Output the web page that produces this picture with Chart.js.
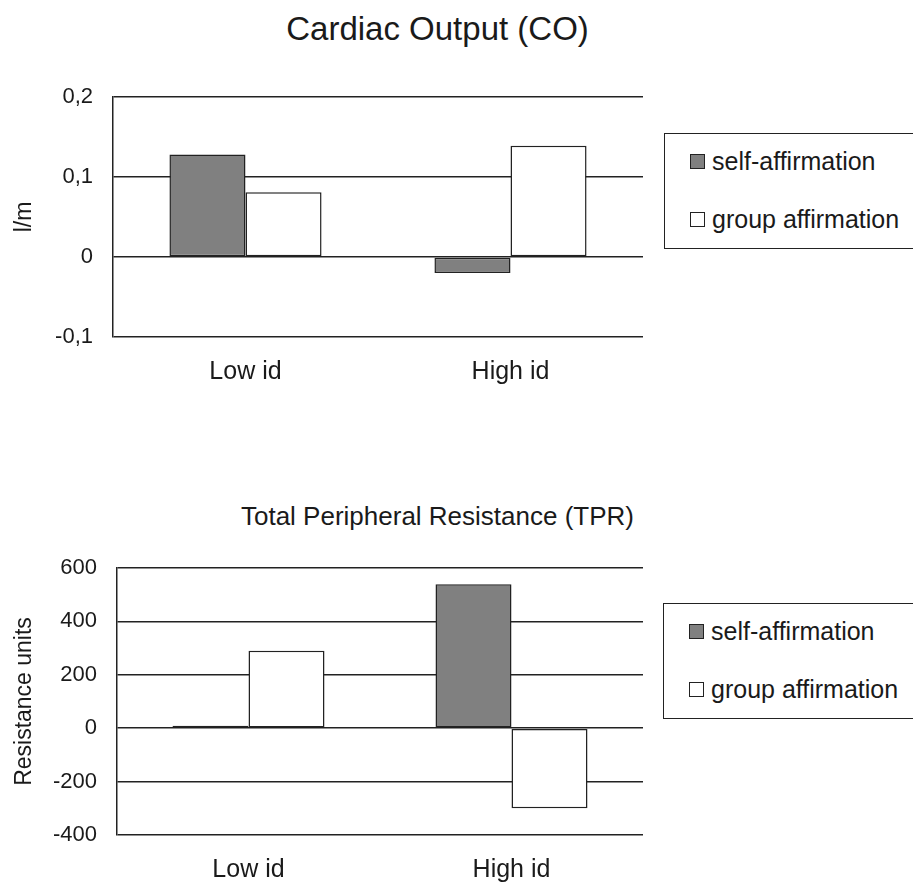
<!DOCTYPE html>
<html>
<head>
<meta charset="utf-8">
<script src="https://cdn.jsdelivr.net/npm/chart.js@4.4.1/dist/chart.umd.min.js"></script>
<style>
  body { margin: 0; background: #fff; }
  #page { position: relative; width: 913px; height: 883px; overflow: hidden; font-family: "Liberation Sans", Arial, sans-serif; color: #1a1a1a; }
  canvas { position: absolute; left: 0; }
  .title { position: absolute; left: 0; width: 875px; text-align: center; line-height: 1; }
  .legend { position: absolute; width: 270px; height: 116px; border: 1.5px solid #222; box-sizing: border-box; background: #fff; padding: 15px 0 0 25px; }
  .legend-row { display: flex; align-items: center; height: 24px; margin-bottom: 34px; font-size: 25px; }
  .legend-box { width: 15px; height: 15px; box-sizing: border-box; border: 1.5px solid #222; margin-right: 7px; }
</style>
</head>
<body>
<div id="page">
  <div class="title" style="top: 12px; font-size: 33px;">Cardiac Output (CO)</div>
  <canvas id="coChart" width="913" height="440" style="top: 0;"></canvas>
  <div class="legend" id="coLegend" style="left: 664px; top: 133px;"></div>

  <div class="title" style="top: 503px; font-size: 26px;">Total Peripheral Resistance (TPR)</div>
  <canvas id="tprChart" width="913" height="443" style="top: 440px;"></canvas>
  <div class="legend" id="tprLegend" style="left: 663px; top: 603px;"></div>
</div>

<script>
const groups = ['Low id', 'High id'];
const seriesNames = ['self-affirmation', 'group affirmation'];
const seriesColors = ['#808080', '#ffffff'];

// Cardiac Output (l/m)
const coSelf = [0.128, -0.02];
const coGroup = [0.081, 0.139];
const coTicks = [-0.1, 0, 0.1, 0.2];
const coTickLabels = ['-0,1', '0', '0,1', '0,2'];

// Total Peripheral Resistance
const tprSelf = [9, 539];
const tprGroup = [290, -300];
const tprTicks = [-400, -200, 0, 200, 400, 600];
const tprTickLabels = ['-400', '-200', '0', '200', '400', '600'];

const lineColor = '#222222';
const fontFamily = '"Liberation Sans", Arial, sans-serif';

function makeLegend(id) {
  const box = document.getElementById(id);
  seriesNames.forEach((name, i) => {
    const row = document.createElement('div');
    row.className = 'legend-row';
    const mark = document.createElement('span');
    mark.className = 'legend-box';
    mark.style.background = seriesColors[i];
    const text = document.createElement('span');
    text.textContent = name;
    row.appendChild(mark);
    row.appendChild(text);
    box.appendChild(row);
  });
}

function createBarChart(canvasId, selfData, groupData, ticks, tickLabels, yTitle, area) {
  const ctx = document.getElementById(canvasId);
  return new Chart(ctx, {
    type: 'bar',
    data: {
      labels: groups,
      datasets: [
        {
          label: seriesNames[0],
          data: selfData,
          backgroundColor: seriesColors[0],
          borderColor: lineColor,
          borderWidth: 1.5,
          borderSkipped: false,
        },
        {
          label: seriesNames[1],
          data: groupData,
          backgroundColor: seriesColors[1],
          borderColor: lineColor,
          borderWidth: 1.5,
          borderSkipped: false,
        },
      ]
    },
    options: {
      responsive: false,
      animation: false,
      devicePixelRatio: 1,
      categoryPercentage: area.catPct,
      barPercentage: 1,
      layout: {
        padding: { left: 0, top: area.top, right: area.right, bottom: area.bottom }
      },
      scales: {
        x: {
          afterFit: (scale) => { scale.height = area.xHeight; },
          grid: { display: false, drawTicks: false },
          border: { display: false },
          ticks: {
            padding: 20,
            color: '#1a1a1a',
            font: { family: fontFamily, size: 25 },
          }
        },
        y: {
          min: ticks[0],
          max: ticks[ticks.length - 1],
          afterFit: (scale) => { scale.width = area.left; },
          afterBuildTicks: (scale) => { scale.ticks = ticks.map(v => ({ value: v })); },
          grid: { color: lineColor, lineWidth: 1.5, drawTicks: false },
          border: { display: true, color: lineColor, width: 1.5 },
          ticks: {
            padding: 20,
            color: '#1a1a1a',
            font: { family: fontFamily, size: 22 },
            callback: (value, index) => tickLabels[index],
          },
          title: {
            display: true,
            text: yTitle,
            color: '#1a1a1a',
            padding: { top: 11, bottom: 0 },
            font: { family: fontFamily, size: 23 },
          }
        }
      },
      plugins: {
        legend: { display: false },
        tooltip: { enabled: false },
      }
    }
  });
}

createBarChart('coChart', coSelf, coGroup, coTicks, coTickLabels, 'l/m',
  { left: 113, top: 97, right: 270, bottom: 43, xHeight: 60, catPct: 0.574 });
createBarChart('tprChart', tprSelf, tprGroup, tprTicks, tprTickLabels, 'Resistance units',
  { left: 117, top: 128, right: 270, bottom: 0, xHeight: 48, catPct: 0.578 });

makeLegend('coLegend');
makeLegend('tprLegend');
</script>
</body>
</html>
